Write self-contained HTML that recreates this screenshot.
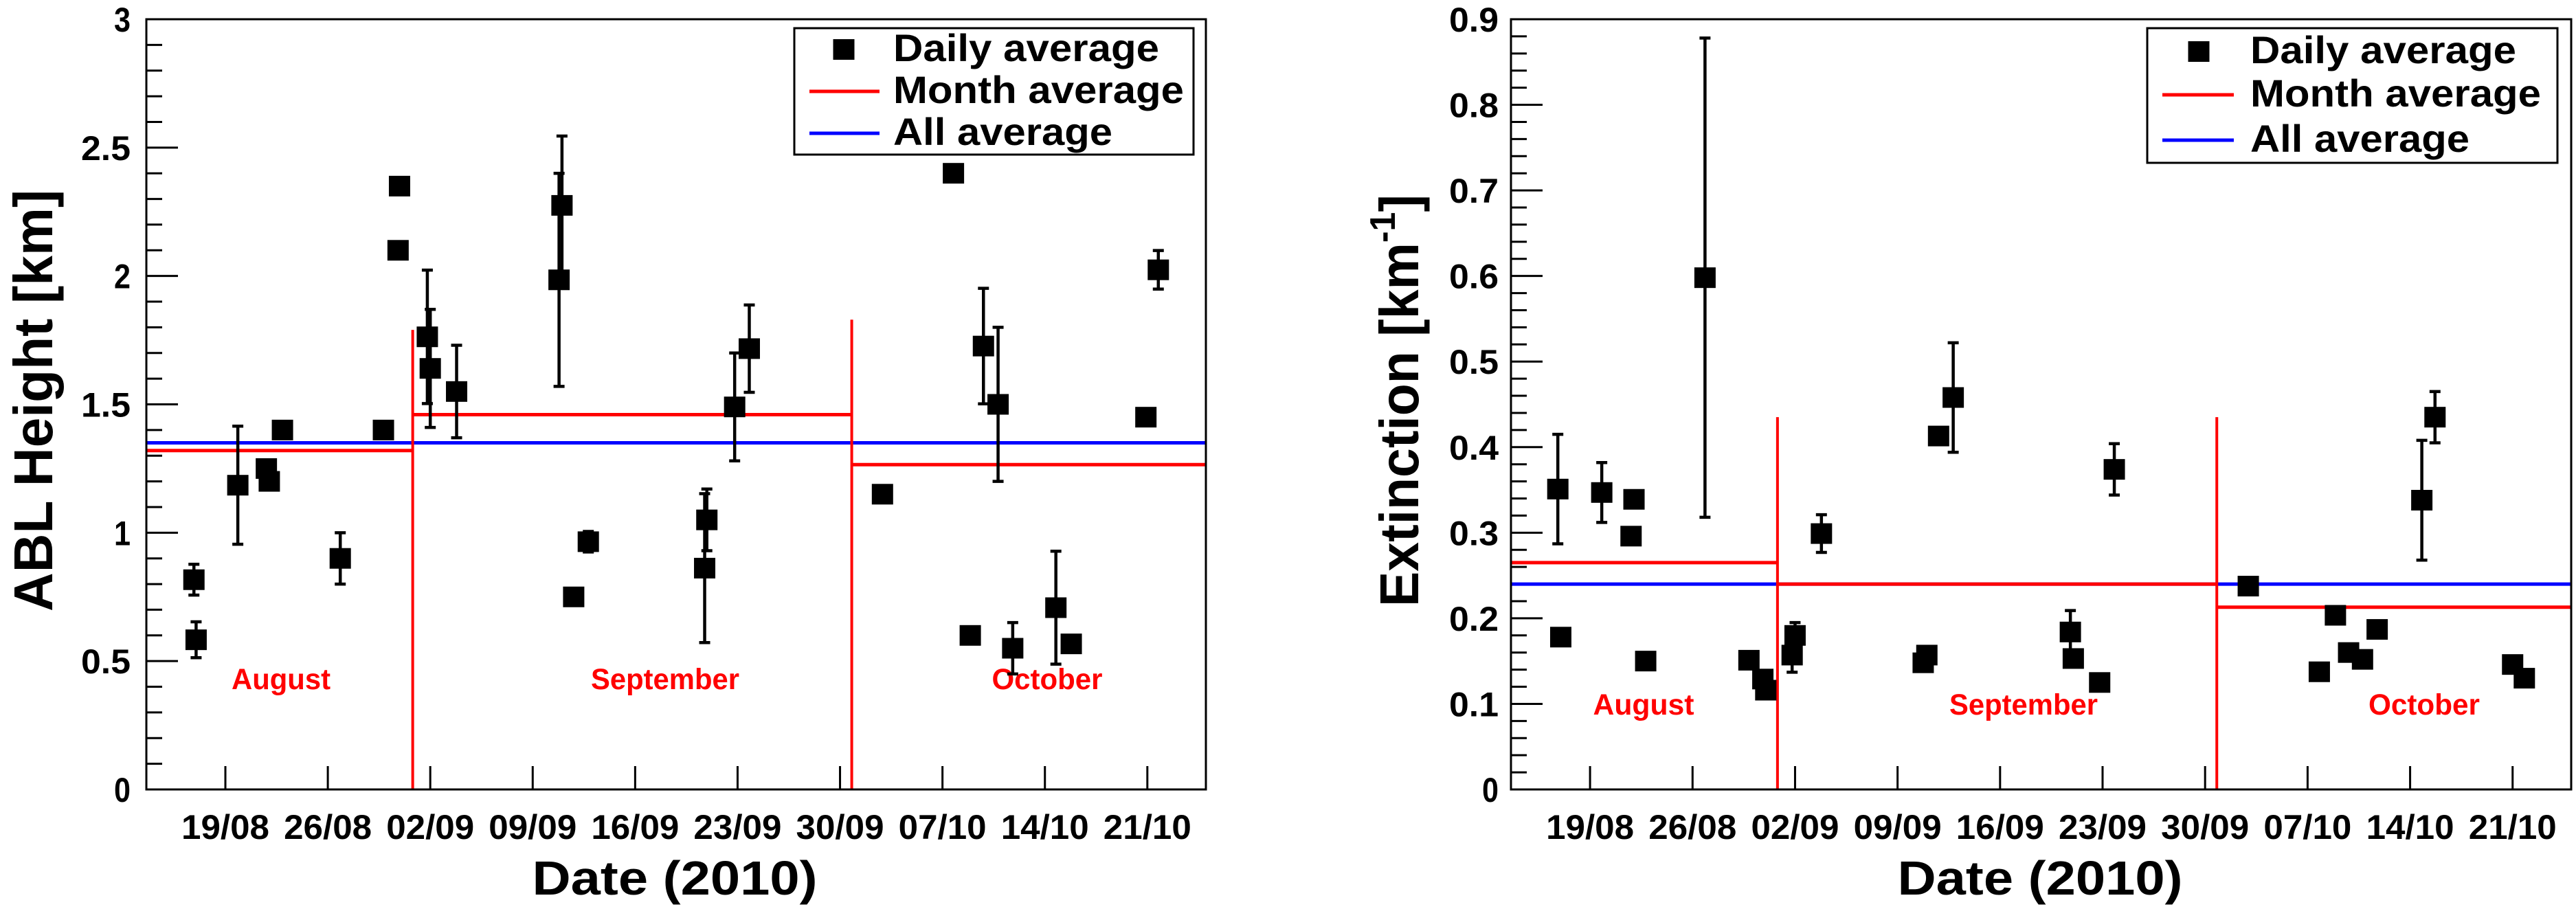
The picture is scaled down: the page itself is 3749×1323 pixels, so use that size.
<!DOCTYPE html>
<html><head><meta charset="utf-8"><style>
html,body{margin:0;padding:0;background:#fff;overflow:hidden;}
svg{display:block;}
text{font-family:"Liberation Sans Narrow","Liberation Sans",sans-serif;font-weight:bold;}
</style></head>
<body>
<svg id="chart" width="3749" height="1323" viewBox="0 0 3749 1323" xmlns="http://www.w3.org/2000/svg"></svg>
<script>
// ---- Shared x-axis data (day index: 19 = 19 Aug, 33 = 2 Sep, 61 = 30 Sep ...)
const xTickDays = [19, 26, 33, 40, 47, 54, 61, 68, 75, 82];
const xTickLabels = ["19/08","26/08","02/09","09/09","16/09","23/09","30/09","07/10","14/10","21/10"];
const monthNames = ["August","September","October"];
const monthBounds = [13.6, 31.8, 61.8, 86];

// ---- Left chart: ABL height
const ablDays = [16.85,17.0,19.85,21.8,22.0,22.9,26.85,29.8,30.9,30.8,32.8,33.0,34.8,41.8,42.0,42.8,43.8,51.75,51.9,53.8,54.8,63.9,68.75,69.9,70.8,71.8,72.8,75.75,76.8,81.9,82.75];
const ablValues = [0.817,0.583,1.185,1.25,1.20,1.40,0.90,1.40,2.35,2.10,1.763,1.64,1.55,1.985,2.275,0.75,0.965,0.862,1.05,1.49,1.717,1.15,2.40,0.60,1.727,1.50,0.55,0.708,0.567,1.45,2.024];
const ablErrors = [0.06,0.07,0.23,0,0,0,0.1,0,0,0,0.26,0.23,0.18,0.415,0.27,0,0.04,0.29,0.12,0.21,0.17,0,0,0,0.225,0.30,0.1,0.22,0.03,0,0.075];
const ablMonthAvg = [1.32, 1.46, 1.265];
const ablAllAvg = [1.35];
const ablYTicks = ["0","0.5","1","1.5","2","2.5","3"];

// ---- Right chart: extinction
const extDays = [16.8,17.0,19.8,22.0,21.8,22.8,26.85,29.85,30.8,31.0,32.8,33.0,34.8,41.75,42.0,42.8,43.8,51.8,52.0,53.8,54.8,63.95,68.8,69.9,70.8,71.75,72.75,75.8,76.7,82.0,82.8];
const extValues = [0.351,0.178,0.347,0.339,0.296,0.150,0.598,0.151,0.129,0.116,0.157,0.180,0.299,0.148,0.157,0.413,0.458,0.184,0.153,0.125,0.374,0.2376,0.1375,0.2035,0.16,0.152,0.187,0.338,0.435,0.146,0.130];
const extErrors = [0.064,0,0.035,0,0,0,0.28,0,0,0,0.02,0.015,0.022,0,0,0,0.064,0.025,0,0,0.03,0,0,0,0,0,0,0.07,0.03,0,0];
const extMonthAvg = [0.265, 0.24, 0.213];
const extAllAvg = [0.24];
const extYTicks = ["0","0.1","0.2","0.3","0.4","0.5","0.6","0.7","0.8","0.9"];

const NS = "http://www.w3.org/2000/svg";
const svg = document.getElementById("chart");
function mk(tag, attrs, parent){
  const e = document.createElementNS(NS, tag);
  for (const k in attrs) e.setAttribute(k, attrs[k]);
  (parent||svg).appendChild(e);
  return e;
}

function drawChart(cfg){
  const g = mk("g", {});
  
  
  const L=cfg.left, R=cfg.right, T=28, B=1149;
  const xs = d => L + (d - monthBounds[0])/(monthBounds[3]-monthBounds[0])*(R-L);
  const ys = v => B - v/cfg.ymax*(B-T);

  const nMinor = Math.round(cfg.ymax/cfg.minorStep);
  for (let i=0;i<=nMinor;i++){
    const v=i*cfg.minorStep, y=ys(v);
    const major = (i % cfg.minorPerMajor)===0;
    const t = mk("line",{x1:L,x2:L+(major?46:23),y1:y,y2:y,stroke:"#000","stroke-width":3},g);
    
    
  }
  cfg.yLabels.forEach((lab,i)=>{
    const y = ys(i*cfg.minorStep*cfg.minorPerMajor);
    const t = mk("text",{x:cfg.labelRight,y:y+18,"text-anchor":"end","font-size":50,textLength:24*lab.length,lengthAdjust:"spacingAndGlyphs"},g);
    t.textContent = lab;
    
    
  });
  xTickDays.forEach((d,i)=>{
    const x = xs(d);
    const t = mk("line",{x1:x,x2:x,y1:B,y2:B-34,stroke:"#000","stroke-width":3},g);
    
    
    const lb = mk("text",{x:x,y:1221,"text-anchor":"middle","font-size":50,textLength:128,lengthAdjust:"spacingAndGlyphs"},g);
    lb.textContent = xTickLabels[i];
    
    
  });

  const bl = mk("line",{x1:L,x2:R,y1:ys(cfg.allAvg[0]),y2:ys(cfg.allAvg[0]),stroke:"#0000ff","stroke-width":5},g);
  
  
  for (let m=0;m<3;m++){
    const x1 = m===0?L:xs(monthBounds[m]), x2 = m===2?R:xs(monthBounds[m+1]);
    const ml = mk("line",{x1:x1,x2:x2,y1:ys(cfg.monthAvg[m]),y2:ys(cfg.monthAvg[m]),stroke:"#ff0000","stroke-width":5},g);
    
    
  }
  for (let m=1;m<3;m++){
    const x = xs(monthBounds[m]);
    const vl = mk("line",{x1:x,x2:x,y1:B,y2:ys(cfg.vTop[m-1]),stroke:"#ff0000","stroke-width":4},g);
    
    
  }
  monthNames.forEach((n,i)=>{
    const t = mk("text",{x:cfg.monthX[i],y:cfg.monthY,"text-anchor":"middle","font-size":43,fill:"#ff0000",textLength:cfg.monthW[i],lengthAdjust:"spacingAndGlyphs"},g);
    t.textContent = n;
    
    
  });

  cfg.days.forEach((d,i)=>{
    const x = xs(d), y = ys(cfg.values[i]), e = cfg.errors[i];
    if (e>0){
      const y1=ys(cfg.values[i]+e), y2=ys(cfg.values[i]-e);
      const el = mk("path",{d:`M${x},${y1}V${y2}M${x-8},${y1}H${x+8}M${x-8},${y2}H${x+8}`,stroke:"#000","stroke-width":4.5,fill:"none"},g);
      
      
    }
    const r = mk("rect",{x:x-15.5,y:y-15,width:31,height:30,fill:"#000"},g);
    
    
  });

  const f = mk("rect",{x:L,y:T,width:R-L,height:B-T,fill:"none",stroke:"#000","stroke-width":3},g);
  
  

  const xt = mk("text",{x:cfg.xTitleX,y:1302,"text-anchor":"middle","font-size":70,textLength:415,lengthAdjust:"spacingAndGlyphs"},g);
  xt.textContent = "Date (2010)";
  
  
  const yt = mk("text",{x:0,y:0,"text-anchor":"middle","font-size":80,textLength:cfg.yTitleLen,lengthAdjust:"spacingAndGlyphs",style:'font-family:"Liberation Sans",sans-serif',transform:`translate(${cfg.yTitleX},583) rotate(-90)`},g);
  if (cfg.sup){
    yt.appendChild(document.createTextNode(cfg.yTitle));
    const s = mk("tspan",{"font-size":52,dy:-34},yt); s.textContent="-1";
    const s2 = mk("tspan",{dy:34},yt); s2.textContent="]";
  } else yt.textContent = cfg.yTitle;
  
  

  const lg = mk("g",{},g);
  
  
  const Lb = cfg.legend;
  mk("rect",{x:Lb.x,y:41,width:Lb.w,height:Lb.h,fill:"#fff",stroke:"#000","stroke-width":3},lg);
  const lm = mk("rect",{x:Lb.mx-15.5,y:Lb.rows[0]-15,width:31,height:30,fill:"#000"},lg);
  
  
  const l1 = mk("line",{x1:Lb.lx1,x2:Lb.lx2,y1:Lb.rows[1],y2:Lb.rows[1],stroke:"#ff0000","stroke-width":5},lg);
  
  
  const l2 = mk("line",{x1:Lb.lx1,x2:Lb.lx2,y1:Lb.rows[2],y2:Lb.rows[2],stroke:"#0000ff","stroke-width":5},lg);
  
  
  [["Daily average",387],["Month average",423],["All average",319]].forEach((p,i)=>{
    const t = mk("text",{x:Lb.tx,y:Lb.rows[i]+17,"font-size":56,textLength:p[1],lengthAdjust:"spacingAndGlyphs"},lg);
    t.textContent = p[0];
    
    
  });
}

drawChart({name:"abl-height-chart",left:213,right:1755,ymax:3,minorStep:0.1,minorPerMajor:5,labelRight:190,
  yLabels:ablYTicks,days:ablDays,values:ablValues,errors:ablErrors,monthAvg:ablMonthAvg,allAvg:ablAllAvg,vTop:[1.79,1.83],
  monthX:[409,968,1524],monthW:[144,216,161],monthY:1003,xTitleX:982,yTitleX:76,yTitleLen:614,yTitle:"ABL Height [km]",sup:false,
  legend:{x:1156,w:581,h:184,mx:1228,lx1:1178,lx2:1280,tx:1300,rows:[72,133,194]}});
drawChart({name:"extinction-chart",left:2199,right:3742,ymax:0.9,minorStep:0.02,minorPerMajor:5,labelRight:2181,
  yLabels:extYTicks,days:extDays,values:extValues,errors:extErrors,monthAvg:extMonthAvg,allAvg:extAllAvg,vTop:[0.435,0.435],
  monthX:[2392,2945,3528],monthW:[147,216,162],monthY:1040,xTitleX:2969,yTitleX:2064,yTitleLen:600,yTitle:"Extinction [km",sup:true,
  legend:{x:3125,w:597,h:196,mx:3200,lx1:3147,lx2:3251,tx:3275,rows:[75,138,204]}});
</script>
</body></html>
